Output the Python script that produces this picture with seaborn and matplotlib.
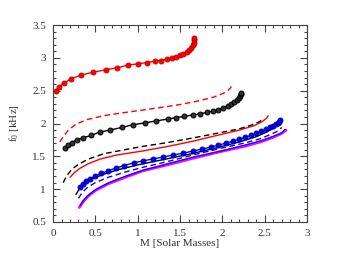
import numpy as np
import pandas as pd
import matplotlib
matplotlib.use("Agg")
import matplotlib.pyplot as plt
from matplotlib.ticker import MultipleLocator
import seaborn as sns

# red, circles (top)
red_pts_m = [0.03, 0.07, 0.13, 0.21, 0.33, 0.47, 0.62, 0.76, 0.88, 1.0, 1.11, 1.2, 1.27, 1.34,
             1.40, 1.45, 1.50, 1.54, 1.58, 1.61, 1.63, 1.65, 1.66, 1.665, 1.67]
red_pts_f = [2.50, 2.56, 2.62, 2.68, 2.74, 2.78, 2.82, 2.85, 2.89, 2.91, 2.93, 2.95, 2.96, 2.98,
             3.00, 3.02, 3.04, 3.06, 3.09, 3.12, 3.15, 3.19, 3.23, 3.27, 3.30]

# red dashed
red_dash_m = [0.08, 0.12, 0.18, 0.27, 0.40, 0.60, 0.80, 1.03, 1.30, 1.50, 1.70, 1.89, 2.01, 2.07, 2.10, 2.11]
red_dash_f = [1.72, 1.80, 1.90, 1.99, 2.06, 2.12, 2.16, 2.20, 2.25, 2.29, 2.34, 2.40, 2.46, 2.51, 2.55, 2.59]

# black, circles
blk_pts_m = [0.14, 0.18, 0.22, 0.28, 0.35, 0.45, 0.55, 0.67, 0.81, 0.94, 1.08, 1.22, 1.36, 1.45, 1.55,
             1.65, 1.74, 1.82, 1.89, 1.95, 2.01, 2.06, 2.10, 2.14, 2.17, 2.19, 2.21, 2.22, 2.225]
blk_pts_f = [1.62, 1.67, 1.71, 1.75, 1.78, 1.82, 1.87, 1.90, 1.94, 1.98, 2.01, 2.04, 2.07, 2.09, 2.11,
             2.13, 2.15, 2.17, 2.19, 2.21, 2.24, 2.27, 2.30, 2.33, 2.36, 2.39, 2.42, 2.45, 2.47]

# black dashed
blk_dash_m = [0.12, 0.16, 0.22, 0.30, 0.42, 0.60, 0.80, 1.05, 1.35, 1.65, 1.97, 2.20, 2.35, 2.44, 2.48]
blk_dash_f = [1.10, 1.20, 1.30, 1.38, 1.46, 1.54, 1.59, 1.65, 1.71, 1.78, 1.86, 1.92, 1.98, 2.03, 2.08]

# red solid
red_line_m = [0.20, 0.25, 0.32, 0.42, 0.56, 0.75, 1.05, 1.35, 1.65, 1.97, 2.20, 2.38, 2.47, 2.52, 2.54]
red_line_f = [1.18, 1.25, 1.32, 1.39, 1.46, 1.52, 1.58, 1.65, 1.73, 1.83, 1.90, 1.97, 2.03, 2.08, 2.12]

# black solid
blk_line_m = [0.27, 0.31, 0.37, 0.45, 0.58, 0.75, 1.0, 1.3, 1.6, 1.9, 2.2, 2.4, 2.52, 2.6, 2.63]
blk_line_f = [0.92, 1.00, 1.08, 1.15, 1.22, 1.29, 1.37, 1.45, 1.53, 1.62, 1.72, 1.80, 1.87, 1.93, 1.98]

# blue, circles
blu_pts_m = [0.32, 0.35, 0.39, 0.44, 0.50, 0.57, 0.65, 0.74, 0.84, 0.95, 1.06, 1.18, 1.30, 1.42, 1.54,
             1.65, 1.76, 1.86, 1.95, 2.04, 2.12, 2.20, 2.27, 2.34, 2.40, 2.46, 2.51, 2.56, 2.60, 2.63,
             2.655, 2.67, 2.68]
blu_pts_f = [1.04, 1.08, 1.12, 1.16, 1.20, 1.24, 1.28, 1.32, 1.36, 1.40, 1.43, 1.46, 1.49, 1.52, 1.55,
             1.58, 1.61, 1.64, 1.67, 1.70, 1.73, 1.76, 1.79, 1.82, 1.85, 1.88, 1.91, 1.94, 1.97, 1.99,
             2.01, 2.03, 2.05]

# blue dashed
blu_dash_m = [0.30, 0.34, 0.40, 0.50, 0.65, 0.85, 1.05, 1.35, 1.65, 1.97, 2.25, 2.45, 2.58, 2.66, 2.70]
blu_dash_f = [0.86, 0.94, 1.02, 1.10, 1.18, 1.26, 1.33, 1.42, 1.52, 1.62, 1.70, 1.77, 1.84, 1.89, 1.94]

# magenta solid
mag_line_m = [0.31, 0.35, 0.41, 0.50, 0.65, 0.85, 1.06, 1.35, 1.65, 1.97, 2.25, 2.45, 2.60, 2.70, 2.75]
mag_line_f = [0.72, 0.80, 0.89, 0.98, 1.08, 1.18, 1.28, 1.37, 1.47, 1.57, 1.65, 1.72, 1.79, 1.85, 1.90]

# blue solid (sits on the magenta one)
blu_line_m = [0.32, 0.36, 0.42, 0.51, 0.66, 0.86, 1.07, 1.36, 1.66, 1.98, 2.26, 2.46, 2.61, 2.70, 2.74]
blu_line_f = [0.75, 0.83, 0.91, 1.00, 1.10, 1.20, 1.29, 1.39, 1.49, 1.58, 1.67, 1.74, 1.81, 1.86, 1.91]

x_ticks = [0, 0.5, 1, 1.5, 2, 2.5, 3]
x_labels = ['0', '0.5', '1', '1.5', '2', '2.5', '3']
y_ticks = [0.5, 1, 1.5, 2, 2.5, 3, 3.5]
y_labels = ['0.5', '1', '1.5', '2', '2.5', '3', '3.5']

sns.set_style("ticks")
plt.rcParams['font.family'] = ['Liberation Serif', 'DejaVu Serif']
plt.rcParams['mathtext.fontset'] = 'custom'
plt.rcParams['mathtext.rm'] = 'Liberation Serif'
plt.rcParams['mathtext.it'] = 'Liberation Serif'

fig = plt.figure(figsize=(3.49, 2.59), dpi=100)
ax = fig.add_axes([0.152, 0.143, 0.728, 0.760])

kw = dict(ax=ax, sort=False, estimator=None, legend=False)
sns.lineplot(x=mag_line_m, y=mag_line_f, color='magenta', lw=2.0, **kw)
sns.lineplot(x=blu_line_m, y=blu_line_f, color='blue', lw=0.9, **kw)
sns.lineplot(x=blu_dash_m, y=blu_dash_f, color='blue', lw=1.0, linestyle=(0, (4, 2.5)), **kw)
sns.lineplot(x=blk_line_m, y=blk_line_f, color='black', lw=1.0, **kw)
sns.lineplot(x=blu_pts_m, y=blu_pts_f, color='blue', lw=1.0, marker='o', markersize=3.5,
             markeredgecolor='#0000aa', **kw)
sns.lineplot(x=red_line_m, y=red_line_f, color='red', lw=1.0, **kw)
sns.lineplot(x=blk_dash_m, y=blk_dash_f, color='black', lw=1.0, linestyle=(0, (4, 2.5)), **kw)
sns.lineplot(x=blk_pts_m, y=blk_pts_f, color='black', lw=1.0, marker='o', markersize=3.5,
             markerfacecolor='#333333', markeredgecolor='black', **kw)
sns.lineplot(x=red_dash_m, y=red_dash_f, color='red', lw=1.0, linestyle=(0, (4, 2.5)), **kw)
sns.lineplot(x=red_pts_m, y=red_pts_f, color='red', lw=1.0, marker='o', markersize=3.5,
             markeredgecolor='#cc0000', **kw)

ax.set_xlim(0, 3)
ax.set_ylim(0.5, 3.5)
ax.set_xticks(x_ticks)
ax.set_xticklabels(x_labels)
ax.set_yticks(y_ticks)
ax.set_yticklabels(y_labels)
ax.xaxis.set_minor_locator(MultipleLocator(0.1))
ax.yaxis.set_minor_locator(MultipleLocator(0.1))
ax.tick_params(which='both', direction='in', top=True, right=True, colors='#444444',
               labelcolor='#333333', labelsize=8, width=0.8)
ax.tick_params(which='major', length=5, pad=5)
ax.tick_params(which='minor', length=2.5)
for s in ax.spines.values():
    s.set_color('#444444')
    s.set_linewidth(0.8)

ax.set_xlabel('M [Solar Masses]', fontsize=8, color='#333333', labelpad=1)
ax.set_ylabel('f$_0$ [kHz]', fontsize=8, color='#333333', labelpad=8)

plt.savefig('out.png', dpi=100)
